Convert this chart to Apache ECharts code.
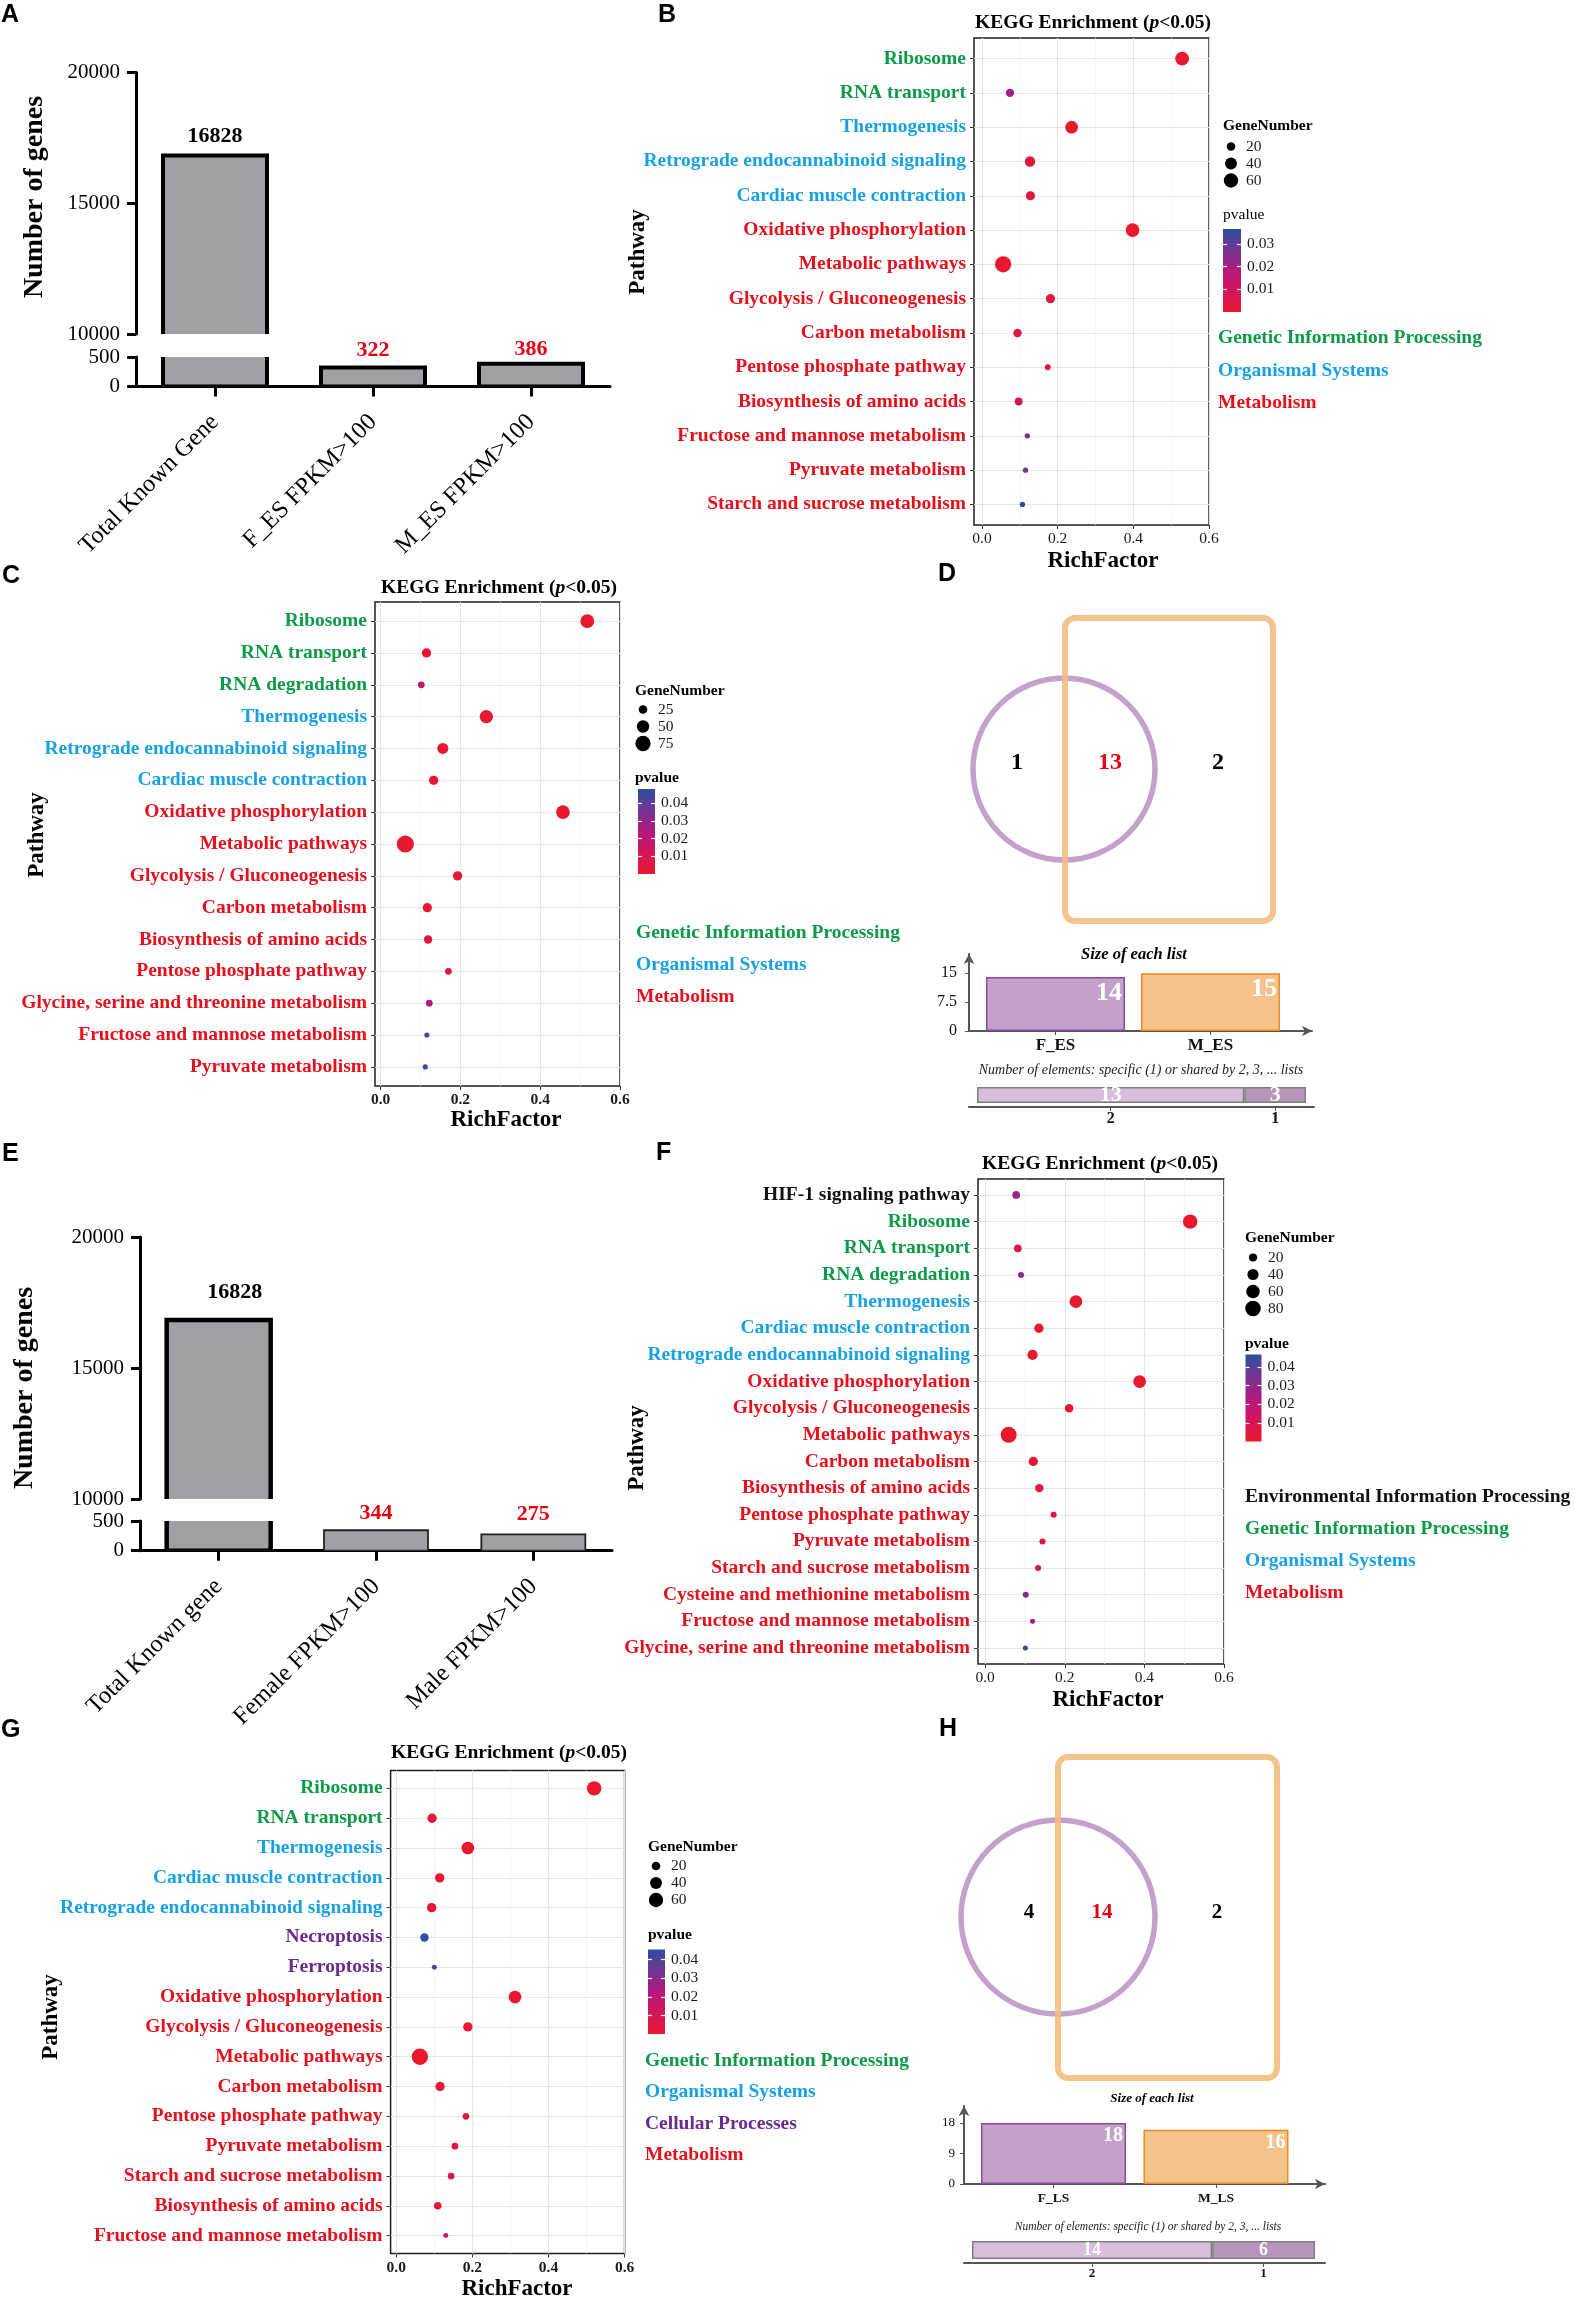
<!DOCTYPE html>
<html>
<head>
<meta charset="utf-8">
<title>KEGG enrichment figure</title>
<script src="https://cdn.jsdelivr.net/npm/echarts@6.0.0/dist/echarts.min.js"></script>
<style>
html, body { margin:0; padding:0; background:#fff; }
#chart { width:1575px; height:2298px; }
</style>
</head>
<body>
<div id="chart"></div>
<script>
// ================= DATA =================
// Panel A
const aCategories = ['Total Known Gene', 'F_ES FPKM>100', 'M_ES FPKM>100'];
const aGeneCounts = [16828, 322, 386];
// Panel E
const eCategories = ['Total Known gene', 'Female FPKM>100', 'Male FPKM>100'];
const eGeneCounts = [16828, 344, 275];

// Panel B
const bPathways = ['Ribosome','RNA transport','Thermogenesis','Retrograde endocannabinoid signaling','Cardiac muscle contraction','Oxidative phosphorylation','Metabolic pathways','Glycolysis / Gluconeogenesis','Carbon metabolism','Pentose phosphate pathway','Biosynthesis of amino acids','Fructose and mannose metabolism','Pyruvate metabolism','Starch and sucrose metabolism'];
const bGroups = ['G','G','O','O','O','M','M','M','M','M','M','M','M','M'];
const bRichFactor = [0.529,0.074,0.237,0.127,0.128,0.398,0.056,0.181,0.094,0.174,0.097,0.120,0.115,0.107];
const bGeneNumber = [55,19,46,30,23,55,78,23,19,8,16,6,6,6];
const bPvalue = [0.00001,0.020,0.0006,0.003,0.004,0.00003,0.0002,0.003,0.006,0.005,0.009,0.028,0.027,0.0365];
const bSizeBreaks = [20,40,60];
const bPBreaks = [0.01,0.02,0.03];

// Panel C
const cPathways = ['Ribosome','RNA transport','RNA degradation','Thermogenesis','Retrograde endocannabinoid signaling','Cardiac muscle contraction','Oxidative phosphorylation','Metabolic pathways','Glycolysis / Gluconeogenesis','Carbon metabolism','Biosynthesis of amino acids','Pentose phosphate pathway','Glycine, serine and threonine metabolism','Fructose and mannose metabolism','Pyruvate metabolism'];
const cGroups = ['G','G','G','O','O','O','M','M','M','M','M','M','M','M','M'];
const cRichFactor = [0.518,0.115,0.102,0.265,0.156,0.133,0.457,0.062,0.193,0.117,0.119,0.170,0.122,0.116,0.112];
const cGeneNumber = [62,29,16,58,40,29,60,95,29,29,24,16,16,10,10];
const cPvalue = [0.000001,0.002,0.021,0.0005,0.001,0.002,0.00001,0.0004,0.002,0.003,0.004,0.006,0.024,0.040,0.048];
const cSizeBreaks = [25,50,75];
const cPBreaks = [0.01,0.02,0.03,0.04];

// Panel F
const fPathways = ['HIF-1 signaling pathway','Ribosome','RNA transport','RNA degradation','Thermogenesis','Cardiac muscle contraction','Retrograde endocannabinoid signaling','Oxidative phosphorylation','Glycolysis / Gluconeogenesis','Metabolic pathways','Carbon metabolism','Biosynthesis of amino acids','Pentose phosphate pathway','Pyruvate metabolism','Starch and sucrose metabolism','Cysteine and methionine metabolism','Fructose and mannose metabolism','Glycine, serine and threonine metabolism'];
const fGroups = ['E','G','G','G','O','O','O','M','M','M','M','M','M','M','M','M','M','M'];
const fRichFactor = [0.078,0.515,0.082,0.090,0.228,0.135,0.119,0.388,0.211,0.059,0.121,0.136,0.172,0.144,0.133,0.102,0.119,0.101];
const fGeneNumber = [18,69,18,10,53,27,33,53,22,86,27,22,10,10,10,10,6,6];
const fPvalue = [0.029,0.000001,0.006,0.030,0.0005,0.002,0.002,0.00001,0.002,0.0003,0.003,0.004,0.005,0.005,0.010,0.032,0.027,0.0467];
const fSizeBreaks = [20,40,60,80];
const fPBreaks = [0.01,0.02,0.03,0.04];

// Panel G
const gPathways = ['Ribosome','RNA transport','Thermogenesis','Cardiac muscle contraction','Retrograde endocannabinoid signaling','Necroptosis','Ferroptosis','Oxidative phosphorylation','Glycolysis / Gluconeogenesis','Metabolic pathways','Carbon metabolism','Pentose phosphate pathway','Pyruvate metabolism','Starch and sucrose metabolism','Biosynthesis of amino acids','Fructose and mannose metabolism'];
const gGroups = ['G','G','O','O','O','C','C','M','M','M','M','M','M','M','M','M'];
const gRichFactor = [0.520,0.094,0.188,0.114,0.093,0.074,0.100,0.312,0.188,0.062,0.115,0.183,0.154,0.144,0.109,0.130];
const gGeneNumber = [60,24,46,24,24,19,5,46,24,78,24,11,11,11,15,5];
const gPvalue = [0.000001,0.003,0.0005,0.002,0.003,0.0455,0.043,0.00001,0.001,0.0002,0.002,0.004,0.005,0.006,0.004,0.016];
const gSizeBreaks = [20,40,60];
const gPBreaks = [0.01,0.02,0.03,0.04];

// Panels D and H (Venn: first-only, shared, second-only)
const dListNames = ['F_ES','M_ES'];
const dVennCounts = [1, 13, 2];
const hListNames = ['F_LS','M_LS'];
const hVennCounts = [4, 14, 2];
const sharingLabels = ['2','1'];

const richTicks = [0, 0.2, 0.4, 0.6];
const richGrid = [0, 0.1, 0.2, 0.3, 0.4, 0.5, 0.6];

// ================= STYLE =================
const SERIF = '"Liberation Serif", "Times New Roman", serif';
const SANS = '"Liberation Sans", Arial, sans-serif';
const GROUP_ORDER = ['E','G','O','C','M'];
const GROUP_COLORS = {E:'#111111', G:'#0C9A47', O:'#17A1E5', C:'#6A2A90', M:'#E60F1B'};
const GROUP_NAMES = {E:'Environmental Information Processing', G:'Genetic Information Processing', O:'Organismal Systems', C:'Cellular Processes', M:'Metabolism'};
const P_COLORS = ['#E8192C','#D4155A','#B3187F','#733592','#2C4EA0'];
const DOT_SCALE = 1.15;

// ================= BUILD =================
const grids = [], xAxes = [], yAxes = [], series = [], visualMaps = [], graphics = [];
function addGrid(o) { grids.push(Object.assign({containLabel:false, outerBoundsMode:'none'}, o)); return grids.length - 1; }
function addX(o) { o.axisLine = Object.assign({onZero:false}, o.axisLine || {}); xAxes.push(o); return xAxes.length - 1; }
function addY(o) { o.axisLine = Object.assign({onZero:false}, o.axisLine || {}); yAxes.push(o); return yAxes.length - 1; }
function txt(x, y, text, o) {
  o = o || {};
  graphics.push({type:'text', x:x, y:y, rotation:o.rotation || 0, silent:true, z:10,
    style:{text:text, fill:o.color || '#000', fontSize:o.size || 16, fontFamily:o.family || SERIF,
      fontWeight:o.weight || 'normal', fontStyle:o.style || 'normal',
      align:o.align || 'left', verticalAlign:o.valign || 'middle'}});
}
function keggTitle(x, y) {
  graphics.push({type:'text', x:x, y:y, silent:true, z:10, style:{
    text:'{a|KEGG Enrichment (}{b|p}{a|<0.05)}',
    rich:{a:{fontFamily:SERIF, fontSize:19.5, fontWeight:'bold', fill:'#000'},
          b:{fontFamily:SERIF, fontSize:19.5, fontWeight:'bold', fontStyle:'italic', fill:'#000'}},
    align:'center', verticalAlign:'middle'}});
}

// ---- Bar panels with a broken axis (A, E)
function geneBarPanel(cats, vals, L) {
  const gU = addGrid({left:L.left, top:L.upTop, width:L.width, height:L.upBottom - L.upTop});
  const gL = addGrid({left:L.left, top:L.lowTop, width:L.width, height:L.lowBottom - L.lowTop});
  const yStyle = () => ({
    axisLine:{show:true, lineStyle:{color:'#000', width:3}},
    axisTick:{show:true, length:9, lineStyle:{color:'#000', width:3}},
    axisLabel:{formatter:(v) => String(v), fontFamily:SERIF, fontSize:21, color:'#000', margin:16, showMinLabel:true, showMaxLabel:true},
    splitLine:{show:false}
  });
  const xU = addX({type:'category', gridIndex:gU, data:cats, show:false});
  const yU = addY(Object.assign({type:'value', gridIndex:gU, min:10000, max:20000, interval:5000}, yStyle()));
  const xL = addX({type:'category', gridIndex:gL, data:cats,
    axisLine:{show:true, lineStyle:{color:'#000', width:3}},
    axisTick:{show:true, alignWithLabel:true, length:10, lineStyle:{color:'#000', width:3}},
    axisLabel:{interval:0, rotate:45, fontFamily:SERIF, fontSize:24.5, color:'#000', margin:32}});
  const yL = addY(Object.assign({type:'value', gridIndex:gL, min:0, max:500, interval:500}, yStyle()));

  // bar shapes, truly clipped to each axis segment (custom series clips with a clip path)
  const shape = (xi, yi) => ({type:'custom', xAxisIndex:xi, yAxisIndex:yi, clip:true, z:2,
    data:vals.map((v, i) => [i, v]),
    renderItem:(params, api) => {
      const i = api.value(0), v = api.value(1);
      const top = api.coord([i, v]), base = api.coord([i, 0]);
      const w = L.barWidth;
      return {type:'rect', shape:{x:top[0] - w / 2, y:top[1], width:w, height:base[1] - top[1]},
        style:{fill:'#a09fa4', stroke:L.borderColors[i], lineWidth:L.borderWidths[i]}};
    }});
  series.push(shape(xU, yU));
  series.push(shape(xL, yL));

  // value labels (invisible bars carry the labels)
  const items = (upper) => vals.map((v, i) => ({
    value:v,
    label:{show: upper ? v > 10000 : v <= 500, distance:L.labelDist[i], offset:L.labelOffset[i]}
  }));
  const common = {type:'bar', barWidth:L.barWidth, z:3, silent:true, itemStyle:{color:'rgba(0,0,0,0)', borderWidth:0}};
  series.push(Object.assign({}, common, {xAxisIndex:xU, yAxisIndex:yU, data:items(true),
    label:{position:'top', fontFamily:SERIF, fontWeight:'bold', fontSize:22, color:'#000'}}));
  series.push(Object.assign({}, common, {xAxisIndex:xL, yAxisIndex:yL, data:items(false),
    label:{position:'top', fontFamily:SERIF, fontWeight:'bold', fontSize:22, color:'#E60012'}}));
  txt(L.titleX, L.titleY, 'Number of genes', {size:28, weight:'bold', align:'center', rotation:Math.PI / 2});
}

// ---- KEGG dot plots (B, C, F, G)
function dotPanel(P, L) {
  const n = P.names.length;
  const idx = P.names.map((_, i) => i);
  const size = (v) => DOT_SCALE * Math.sqrt(Math.max(1, L.sizeA + L.sizeB * v));
  const g = addGrid({left:L.left, top:L.top, width:L.width, height:L.height, show:true,
    backgroundColor:'#fff', borderColor:'#1f1f1f', borderWidth:1.5});
  const xi = addX({type:'value', gridIndex:g, min:L.xmin, max:0.6,
    axisLine:{show:false},
    axisTick:{show:true, customValues:richTicks, length:4, lineStyle:{color:'#333', width:1}},
    axisLabel:{customValues:richTicks, formatter:(v) => Number(v).toFixed(1), fontFamily:SERIF, fontSize:15.5,
      fontWeight:L.tickBold ? 'bold' : 'normal', color:'#1a1a1a', margin:6, showMinLabel:true, showMaxLabel:true},
    splitLine:{show:false}});
  const rich = {};
  GROUP_ORDER.forEach((k) => { rich[k] = {color:GROUP_COLORS[k], fontFamily:SERIF, fontSize:19.5, fontWeight:'bold'}; });
  const yi = addY({type:'value', gridIndex:g, inverse:true, min:-0.6, max:n - 0.4,
    axisLine:{show:false},
    axisTick:{show:true, customValues:idx, length:4, lineStyle:{color:'#333', width:1}},
    axisLabel:{customValues:idx, formatter:(v) => { const i = Math.round(v); return '{' + P.groups[i] + '|' + P.names[i] + '}'; },
      rich:rich, margin:8, showMinLabel:true, showMaxLabel:true},
    splitLine:{show:false}});
  const lines = [];
  richGrid.forEach((v, k) => lines.push({xAxis:v, lineStyle:{type:'solid', color:k % 2 === 0 ? '#e6e6e6' : '#f0f0f0', width:k % 2 === 0 ? 1.1 : 0.7}}));
  idx.forEach((i) => lines.push({yAxis:i, lineStyle:{type:'solid', color:'#e6e6e6', width:1.1}}));
  series.push({type:'line', xAxisIndex:xi, yAxisIndex:yi, data:[], silent:true, z:1,
    markLine:{z:1, silent:true, symbol:['none','none'], label:{show:false}, animation:false, data:lines}});
  const sIdx = series.length;
  series.push({type:'scatter', xAxisIndex:xi, yAxisIndex:yi, z:4,
    data:P.rich.map((x, i) => [x, i, P.p[i], P.genes[i]]),
    symbolSize:(v) => size(v[3]), itemStyle:{opacity:1}});
  const pmin = Math.min.apply(null, P.p), pmax = Math.max.apply(null, P.p);
  visualMaps.push({type:'continuous', show:false, seriesIndex:sIdx, dimension:2, min:pmin, max:pmax, inRange:{color:P_COLORS}});

  keggTitle(L.titleX, L.titleY);
  txt(L.pathX, L.pathY, 'Pathway', {size:23, weight:'bold', align:'center', rotation:Math.PI / 2});
  txt(L.rfX, L.rfY, 'RichFactor', {size:23, weight:'bold', align:'center'});

  // size legend
  txt(L.legX, L.geneY, 'GeneNumber', {size:15.5, weight:'bold'});
  const lg = addGrid({left:L.legX, top:L.sizeTop, width:16, height:17 * P.sizeBreaks.length});
  const lx = addX({type:'value', gridIndex:lg, min:0, max:1, show:false});
  const ly = addY({type:'category', gridIndex:lg, data:P.sizeBreaks.map(String), inverse:true, position:'right',
    axisLine:{show:false}, axisTick:{show:false},
    axisLabel:{interval:0, fontFamily:SERIF, fontSize:15.5, color:'#1a1a1a', margin:7}, splitLine:{show:false}});
  series.push({type:'scatter', xAxisIndex:lx, yAxisIndex:ly, silent:true,
    data:P.sizeBreaks.map((b) => [0.5, String(b), b]), symbolSize:(v) => size(v[2]), itemStyle:{color:'#000', opacity:1}});

  // colour bar legend
  txt(L.legX, L.pTitleY, 'pvalue', {size:15.5, weight:L.pTitleBold ? 'bold' : 'normal'});
  const cb = addGrid({left:L.cb.left, top:L.cb.top, width:L.cb.width, height:L.cb.height, show:true, borderWidth:0,
    backgroundColor:{type:'linear', x:0, y:1, x2:0, y2:0,
      colorStops:P_COLORS.map((c, i) => ({offset:i / (P_COLORS.length - 1), color:c}))}});
  addX({type:'value', gridIndex:cb, min:0, max:1, show:false});
  addY({type:'value', gridIndex:cb, min:pmin, max:pmax, position:'right',
    axisLine:{show:false},
    axisTick:{show:true, inside:true, length:4, customValues:P.pBreaks, lineStyle:{color:'#fff', width:1.2}},
    axisLabel:{customValues:P.pBreaks, formatter:(v) => Number(v).toFixed(2), fontFamily:SERIF, fontSize:15.5, color:'#1a1a1a', margin:6},
    splitLine:{show:false}});
  addY({type:'value', gridIndex:cb, min:pmin, max:pmax, position:'left',
    axisLine:{show:false},
    axisTick:{show:true, inside:true, length:4, customValues:P.pBreaks, lineStyle:{color:'#fff', width:1.2}},
    axisLabel:{show:false}, splitLine:{show:false}});

  // category legend
  const present = GROUP_ORDER.filter((k) => P.groups.indexOf(k) >= 0);
  present.forEach((k, j) => txt(L.grpX, L.grpY0 + j * L.grpDy, GROUP_NAMES[k], {size:19.5, weight:'bold', color:GROUP_COLORS[k]}));
}

// ---- Venn + list size panels (D, H)
function vennPanel(key, names, venn, L) {
  const sizes = [venn[0] + venn[1], venn[1] + venn[2]];
  const sharing = [venn[1], venn[0] + venn[2]];
  graphics.push({type:'circle', silent:true, z:5, shape:{cx:L.circle.cx, cy:L.circle.cy, r:L.circle.r},
    style:{fill:'transparent', stroke:'#C4A0CC', lineWidth:L.circle.lw}});
  graphics.push({type:'rect', silent:true, z:6, shape:{x:L.rect.x, y:L.rect.y, width:L.rect.w, height:L.rect.h, r:10},
    style:{fill:'transparent', stroke:'#F4BC80', lineWidth:L.rect.lw, opacity:0.9}});
  const numColors = ['#000', '#E60012', '#000'];
  venn.forEach((v, i) => txt(L.nums[i][0], L.nums[i][1], String(v), {size:L.numSize, weight:'bold', align:'center', color:numColors[i]}));

  // list sizes
  const T = L.top;
  const gt = addGrid({left:T.left, top:T.top, width:T.width, height:T.height});
  const axisGrey = {color:'#555', width:2};
  const xt = addX({type:'value', gridIndex:gt, min:T.xmin, max:T.xmax,
    axisLine:{show:true, symbol:['none','arrow'], symbolSize:[8, 10], lineStyle:axisGrey},
    axisTick:{show:true, customValues:[0, 1], length:4, lineStyle:{color:'#555'}},
    axisLabel:{customValues:[0, 1], formatter:(v) => names[Math.round(v)], fontFamily:SERIF, fontWeight:'bold',
      fontSize:T.nameSize, color:'#111', margin:T.xMargin}, splitLine:{show:false}});
  const yt = addY({type:'value', gridIndex:gt, min:0, max:T.ymax,
    axisLine:{show:true, symbol:['none','arrow'], symbolSize:[8, 10], lineStyle:axisGrey},
    axisTick:{show:true, customValues:T.yTicks, length:4, lineStyle:{color:'#555'}},
    axisLabel:{customValues:T.yTicks, formatter:(v) => String(v), fontFamily:SERIF, fontSize:T.tickSize, color:'#111', margin:T.yMargin},
    splitLine:{show:false}});
  const fills = ['#C3A1CB', '#F4C38B'], strokes = ['#8B4A9C', '#EE8A1F'];
  series.push({type:'bar', xAxisIndex:xt, yAxisIndex:yt, barWidth:T.barWidth,
    data:sizes.map((v, i) => ({value:[i, v], itemStyle:{color:fills[i], borderColor:strokes[i], borderWidth:1.5}})),
    label:{show:true, position:'insideTopRight', distance:3, formatter:(p) => p.value[1], color:'#fff',
      fontFamily:SERIF, fontWeight:'bold', fontSize:T.labelSize}});

  // sharing bar
  const B = L.bottom;
  let acc = 0;
  const centers = sharing.map((v) => { const c = acc + v / 2; acc += v; return c; });
  const gb = addGrid({left:B.left, top:B.top, width:B.width, height:B.height});
  const xb = addX({type:'value', gridIndex:gb, min:B.xmin, max:B.xmax,
    axisLine:{show:true, lineStyle:axisGrey},
    axisTick:{show:true, customValues:centers, length:4, lineStyle:{color:'#555'}},
    axisLabel:{customValues:centers, formatter:(v) => {
        let best = 0; centers.forEach((c, i) => { if (Math.abs(c - v) < Math.abs(centers[best] - v)) best = i; });
        return sharingLabels[best]; },
      fontFamily:SERIF, fontWeight:'bold', fontSize:B.tickSize, color:'#111', margin:4}, splitLine:{show:false}});
  const yb = addY({type:'category', gridIndex:gb, data:[''], show:false});
  const segFills = ['#D6BFD8', '#B697BA'];
  sharing.forEach((v, i) => series.push({type:'bar', xAxisIndex:xb, yAxisIndex:yb, stack:'share-' + key, barWidth:B.barWidth,
    data:[v], itemStyle:{color:segFills[i], borderColor:'#7f7f7f', borderWidth:1.5},
    label:{show:true, position:'inside', color:'#fff', fontFamily:SERIF, fontWeight:'bold', fontSize:B.labelSize}}));

  txt(L.sizeTitle[0], L.sizeTitle[1], 'Size of each list', {size:L.sizeTitle[2], weight:'bold', style:'italic', align:'center'});
  txt(L.elemTitle[0], L.elemTitle[1], 'Number of elements: specific (1) or shared by 2, 3, ... lists', {size:L.elemTitle[2], style:'italic', align:'center', color:'#222'});
}

// ================= PANELS =================
geneBarPanel(aCategories, aGeneCounts, {left:136, width:474, upTop:72.5, upBottom:334, lowTop:357, lowBottom:386.4,
  barWidth:104, borderWidths:[4, 4, 4], borderColors:['#000', '#000', '#000'],
  labelDist:[8, 6, 3], labelOffset:[[0, 0], [0, 0], [0, 0]], titleX:35, titleY:197});
geneBarPanel(eCategories, eGeneCounts, {left:140, width:472, upTop:1237, upBottom:1499, lowTop:1521, lowBottom:1550.7,
  barWidth:104, borderWidths:[4.5, 1.8, 1.8], borderColors:['#000', '#222', '#222'],
  labelDist:[17, 6, 9], labelOffset:[[16, 0], [0, 0], [0, 0]], titleX:24.5, titleY:1388});

dotPanel({names:bPathways, groups:bGroups, rich:bRichFactor, genes:bGeneNumber, p:bPvalue, sizeBreaks:bSizeBreaks, pBreaks:bPBreaks},
  {left:974, top:38, width:235, height:487, xmin:-0.021, tickBold:false, sizeA:6.25, sizeB:2.5,
   titleX:1093, titleY:23, pathX:638, pathY:252, rfX:1103, rfY:561,
   legX:1223, geneY:126, sizeTop:138, pTitleY:215, pTitleBold:false, cb:{left:1223, top:229, width:18, height:83},
   grpX:1218, grpY0:338, grpDy:32.5});
dotPanel({names:cPathways, groups:cGroups, rich:cRichFactor, genes:cGeneNumber, p:cPvalue, sizeBreaks:cSizeBreaks, pBreaks:cPBreaks},
  {left:375, top:602, width:245, height:484, xmin:-0.014, tickBold:true, sizeA:-4, sizeB:2.4,
   titleX:499, titleY:588, pathX:37, pathY:835, rfX:506, rfY:1120.5,
   legX:635, geneY:691, sizeTop:701, pTitleY:778, pTitleBold:true, cb:{left:638, top:789, width:17, height:85},
   grpX:636, grpY0:933, grpDy:32});
dotPanel({names:fPathways, groups:fGroups, rich:fRichFactor, genes:fGeneNumber, p:fPvalue, sizeBreaks:fSizeBreaks, pBreaks:fPBreaks},
  {left:978, top:1179, width:246, height:485, xmin:-0.018, tickBold:false, sizeA:6, sizeB:2.2,
   titleX:1100, titleY:1164, pathX:637, pathY:1448, rfX:1108, rfY:1700.5,
   legX:1245, geneY:1238, sizeTop:1249, pTitleY:1344, pTitleBold:true, cb:{left:1245.5, top:1354.6, width:16, height:87},
   grpX:1245, grpY0:1497, grpDy:32});
dotPanel({names:gPathways, groups:gGroups, rich:gRichFactor, genes:gGeneNumber, p:gPvalue, sizeBreaks:gSizeBreaks, pBreaks:gPBreaks},
  {left:390.6, top:1770.5, width:234, height:483, xmin:-0.015, tickBold:true, sizeA:6.25, sizeB:2.5,
   titleX:509, titleY:1753, pathX:51, pathY:2017, rfX:517, rfY:2289,
   legX:648, geneY:1847, sizeTop:1857.5, pTitleY:1935, pTitleBold:true, cb:{left:648, top:1949.5, width:17, height:84.5},
   grpX:645, grpY0:2061, grpDy:31.3});

vennPanel('D', dListNames, dVennCounts, {
  circle:{cx:1064, cy:769, r:91, lw:5.5}, rect:{x:1065, y:618, w:208, h:303, lw:6},
  nums:[[1017, 763], [1110, 763], [1218, 763]], numSize:24,
  top:{left:969, top:954, width:343, height:77, xmin:-0.558, xmax:1.655, ymax:20, yTicks:[0, 7.5, 15],
       barWidth:139, tickSize:16, nameSize:17, labelSize:26, yMargin:12, xMargin:6},
  bottom:{left:969, top:1083, width:345, height:24, xmin:-0.389, xmax:16.39, barWidth:16, labelSize:22, tickSize:16},
  sizeTitle:[1134, 955, 16.5], elemTitle:[1141, 1070, 14]});
vennPanel('H', hListNames, hVennCounts, {
  circle:{cx:1058, cy:1917, r:97, lw:5.5}, rect:{x:1058, y:1757, w:219, h:321, lw:6},
  nums:[[1029, 1913], [1102, 1913], [1217, 1913]], numSize:21,
  top:{left:964, top:2106, width:361, height:78, xmin:-0.551, xmax:1.671, ymax:23, yTicks:[0, 9, 18],
       barWidth:145, tickSize:13, nameSize:13.5, labelSize:20, yMargin:9, xMargin:8},
  bottom:{left:964, top:2237, width:361, height:26, xmin:-0.466, xmax:20.58, barWidth:18, labelSize:18, tickSize:13},
  sizeTitle:[1152, 2099, 13], elemTitle:[1148, 2227, 11.5]});

// panel letters
[['A', 1, 15.5], ['B', 658, 15.5], ['C', 2, 576.5], ['D', 938, 574], ['E', 2, 1154.5], ['F', 656, 1153], ['G', 1, 1730], ['H', 939, 1729]]
  .forEach((l) => txt(l[1], l[2], l[0], {size:25, weight:'bold', family:SANS}));

const chart = echarts.init(document.getElementById('chart'), null, {width:1575, height:2298});
chart.setOption({
  animation:false,
  backgroundColor:'#ffffff',
  textStyle:{fontFamily:SERIF},
  grid:grids, xAxis:xAxes, yAxis:yAxes, series:series, visualMap:visualMaps,
  graphic:{elements:graphics}
});
</script>
</body>
</html>
